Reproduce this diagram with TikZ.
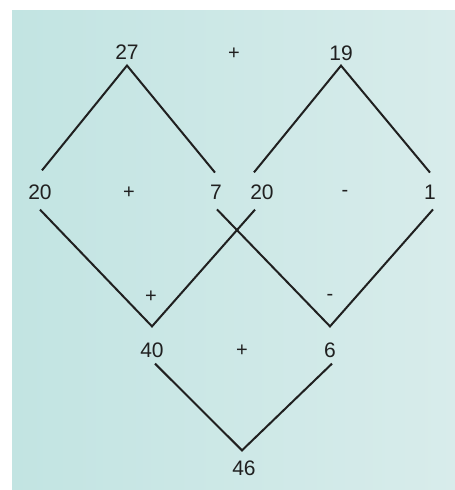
\documentclass[tikz,border=0pt]{standalone}
\usepackage{fontspec}
\setmainfont{Liberation Sans}
\definecolor{ink}{RGB}{32,32,32}
\definecolor{bgL}{RGB}{194,228,226}
\definecolor{bgR}{RGB}{216,236,235}
\begin{document}
\begin{tikzpicture}[x=1pt,y=-1pt,
  num/.style={font=\fontsize{21}{21}\selectfont, text=ink, inner sep=2pt},
  op/.style={font=\fontsize{20}{20}\selectfont, text=ink, inner sep=1pt},
  link/.style={draw=ink, line width=2pt, line join=miter}]
\useasboundingbox (0,0) rectangle (455,490);
\fill[white] (0,0) rectangle (455,490);
\shade[left color=bgL, right color=bgR] (12,10) rectangle (455,490);
% row 1
\node[num] (n27) at (127,52) {27};
\node[op]  (p1)  at (234,54) {+};
\node[num] (n19) at (341,53) {19};
% row 2
\node[num] (n20a) at (40,192) {20};
\node[op]  (p2)   at (129,193) {+};
\node[num] (n7)   at (216,192) {7};
\node[num] (n20b) at (262,192) {20};
\node[op]  (m1)   at (345,193) {-};
\node[num] (n1)   at (430,192) {1};
% middle operators
\node[op] (p3) at (151,297) {+};
\node[op] (m2) at (330,297) {-};
% row 3
\node[num] (n40) at (152,350) {40};
\node[op]  (p4)  at (242,351) {+};
\node[num] (n6)  at (330,350) {6};
% row 4
\node[num] (n46) at (244,468) {46};
% connectors
\draw[link] ([xshift=2pt,yshift=12pt]n20a.north) -- ([yshift=-4pt]n27.south) -- ([xshift=-1pt,yshift=10pt]n7.north);
\draw[link] ([xshift=-8pt,yshift=10pt]n20b.north) -- ([yshift=-3pt]n19.south) -- ([yshift=10pt]n1.north);
\draw[link] ([yshift=-8pt]n20a.south) -- ([yshift=14pt]n40.north) -- ([xshift=-7pt,yshift=-8pt]n20b.south);
\draw[link] ([xshift=1pt,yshift=-8pt]n7.south) -- ([yshift=14pt]n6.north) -- ([xshift=3pt,yshift=-8pt]n1.south);
\draw[link] ([xshift=3pt,yshift=-4pt]n40.south) -- ([xshift=-2pt,yshift=8pt]n46.north) -- ([xshift=2pt,yshift=-4pt]n6.south);
\end{tikzpicture}
\end{document}
